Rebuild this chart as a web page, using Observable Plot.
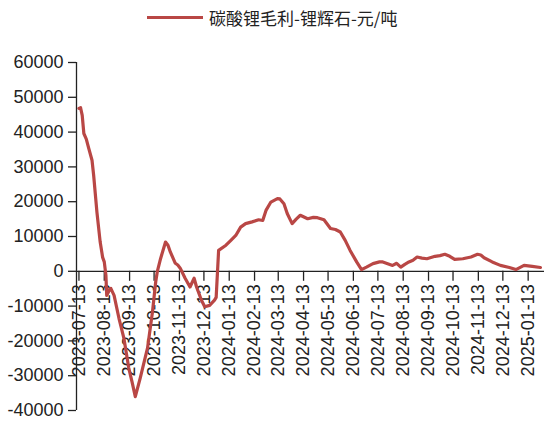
<!DOCTYPE html>
<html><head><meta charset="utf-8">
<script src="https://cdn.jsdelivr.net/npm/d3@7"></script>
<script src="https://cdn.jsdelivr.net/npm/@observablehq/plot@0.6"></script>
<style>
body{margin:0;background:#fff;}
#wrap{position:relative;width:544px;height:423px;overflow:hidden;background:#fff;}
#chart{position:absolute;left:0;top:0;}
#legend{position:absolute;left:147px;top:5px;display:flex;align-items:center;font-family:"Noto Sans CJK SC",sans-serif;font-size:17px;color:#222;white-space:nowrap;}
#legend .sw{display:inline-block;width:56px;height:3px;background:#b94745;margin-right:6px;}
</style></head><body>
<div id="wrap"><div id="chart"></div><div id="legend"><span class="sw"></span><span id="lt"></span></div></div>
<script>
const seriesName = "碳酸锂毛利-锂辉石-元/吨";
const dates = [
"2023-07-13","2023-07-15","2023-07-17","2023-07-19","2023-07-22","2023-07-25","2023-07-29","2023-07-31",
"2023-08-04","2023-08-08","2023-08-11","2023-08-13","2023-08-15","2023-08-16","2023-08-19","2023-08-21",
"2023-08-25","2023-08-31","2023-09-06","2023-09-12","2023-09-16","2023-09-20","2023-09-26","2023-10-05",
"2023-10-11","2023-10-15","2023-10-17","2023-10-21","2023-10-27","2023-10-30","2023-11-02","2023-11-08",
"2023-11-11","2023-11-14","2023-11-20","2023-11-26","2023-12-01","2023-12-04","2023-12-10","2023-12-14",
"2023-12-20","2023-12-26","2023-12-28","2023-12-31",
"2024-01-09","2024-01-15","2024-01-21","2024-01-27","2024-02-02","2024-02-10","2024-02-18","2024-02-23",
"2024-02-27","2024-03-04","2024-03-12","2024-03-15","2024-03-20","2024-03-24","2024-03-30","2024-04-04",
"2024-04-09","2024-04-18","2024-04-25","2024-04-30","2024-05-08","2024-05-16","2024-05-22","2024-05-28",
"2024-06-03","2024-06-09","2024-06-17","2024-06-23","2024-06-29","2024-07-07","2024-07-15","2024-07-19",
"2024-07-25","2024-07-31","2024-08-05","2024-08-10","2024-08-15","2024-08-20","2024-08-25","2024-08-30",
"2024-09-05","2024-09-11","2024-09-21","2024-09-27","2024-10-03","2024-10-09","2024-10-15","2024-10-25",
"2024-11-04","2024-11-12","2024-11-16","2024-11-20","2024-11-30","2024-12-10","2024-12-21","2024-12-29",
"2025-01-08","2025-01-18","2025-01-28"
];
const values = [
46800,47000,44800,39600,38000,35300,31900,27600,
17000,8400,4000,2700,-1100,-6900,-5500,-4900,
-6900,-13500,-19200,-27800,-31800,-36000,-30700,-22000,
-11700,-3000,0,3700,8400,7500,5500,2300,
1800,900,-2000,-4500,-2000,-4500,-8300,-10200,
-9800,-8300,-7500,6000,
7500,8900,10300,12700,13700,14200,14800,14600,
17500,19900,20900,20800,19400,16600,13700,15000,
16100,15100,15500,15400,14800,12300,12000,11300,
8900,6000,2700,500,1200,2200,2700,2700,
2200,1700,2300,1200,2000,2700,3200,4100,
3800,3600,4300,4500,4900,4300,3400,3600,
4100,4900,4700,3900,2700,1700,1100,500,
1700,1400,1100
];
const tickLabels = ["2023-07-13","2023-08-13","2023-09-13","2023-10-13","2023-11-13","2023-12-13",
"2024-01-13","2024-02-13","2024-03-13","2024-04-13","2024-05-13","2024-06-13","2024-07-13",
"2024-08-13","2024-09-13","2024-10-13","2024-11-13","2024-12-13","2025-01-13"];
const yTicks = [60000,50000,40000,30000,20000,10000,0,-10000,-20000,-30000,-40000];
const xDomain = ["2023-07-10","2025-02-02"];
const yDomain = [-40000,60000];

document.getElementById("lt").textContent = seriesName;
const parse = d3.utcParse("%Y-%m-%d");
const data = dates.map((d,i)=>({date: parse(d), value: values[i]}));
const ticks = tickLabels.map(parse);
const fmt = d3.utcFormat("%Y-%m-%d");
const ink = "#222";

const chart = Plot.plot({
  width: 544, height: 423,
  marginLeft: 76, marginRight: 0, marginTop: 62, marginBottom: 13,
  style: {fontFamily: "'Liberation Sans', Arial, sans-serif", fontSize: "18px", color: ink, background: "transparent"},
  x: {type: "utc", domain: xDomain.map(parse), axis: null},
  y: {domain: yDomain, axis: null},
  marks: [
    Plot.ruleY([0], {stroke: ink, strokeWidth: 1.3}),
    Plot.ruleX([parse(xDomain[0])], {stroke: ink, strokeWidth: 1.3}),
    Plot.axisY({ticks: yTicks, tickFormat: d => String(d), tickSize: 8, tickPadding: 5, fontSize: 18, label: null, stroke: ink, strokeWidth: 1.3}),
    Plot.ruleX(ticks, {x: d => d, y1: () => 0, y2: () => 0, insetBottom: -10, stroke: ink, strokeWidth: 1.3}),
    Plot.text(ticks, {x: d => d, y: () => 0, text: d => fmt(d), rotate: -90, textAnchor: "end", dy: 13, fontSize: 18, fill: ink}),
    Plot.line(data, {x: "date", y: "value", stroke: "#b94745", strokeWidth: 3.2, strokeLinejoin: "round"})
  ]
});
document.getElementById("chart").appendChild(chart);
</script>
</body></html>
